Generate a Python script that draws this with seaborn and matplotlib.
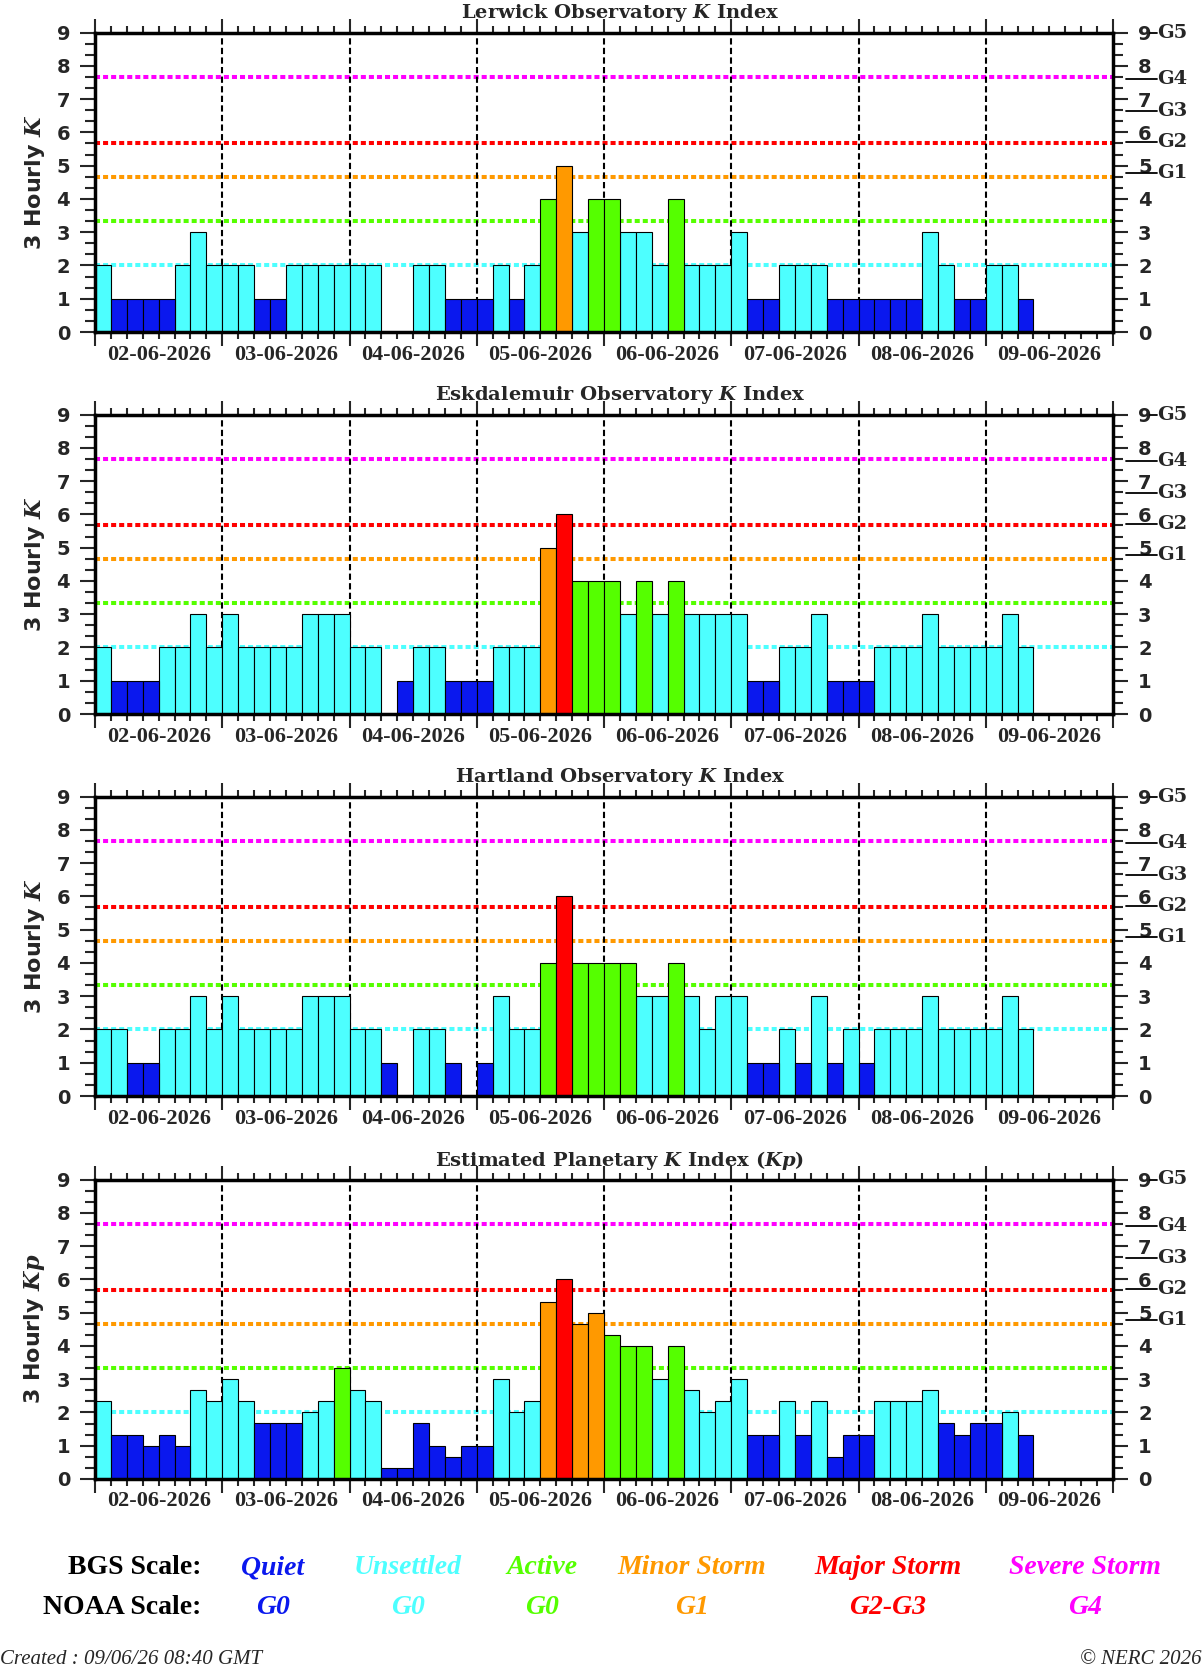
import numpy as np
import pandas as pd
import matplotlib
matplotlib.use('Agg')
import matplotlib.pyplot as plt
import matplotlib.transforms as mtransforms
from matplotlib.lines import Line2D
import seaborn as sns

# ---------------- data ----------------
day_labels = ['02-06-2026', '03-06-2026', '04-06-2026', '05-06-2026',
              '06-06-2026', '07-06-2026', '08-06-2026', '09-06-2026']

lerwick_k = [2, 1, 1, 1, 1, 2, 3, 2,
             2, 2, 1, 1, 2, 2, 2, 2,
             2, 2, 0, 0, 2, 2, 1, 1,
             1, 2, 1, 2, 4, 5, 3, 4,
             4, 3, 3, 2, 4, 2, 2, 2,
             3, 1, 1, 2, 2, 2, 1, 1,
             1, 1, 1, 1, 3, 2, 1, 1,
             2, 2, 1, None, None, None, None, None]

eskdalemuir_k = [2, 1, 1, 1, 2, 2, 3, 2,
                 3, 2, 2, 2, 2, 3, 3, 3,
                 2, 2, 0, 1, 2, 2, 1, 1,
                 1, 2, 2, 2, 5, 6, 4, 4,
                 4, 3, 4, 3, 4, 3, 3, 3,
                 3, 1, 1, 2, 2, 3, 1, 1,
                 1, 2, 2, 2, 3, 2, 2, 2,
                 2, 3, 2, None, None, None, None, None]

hartland_k = [2, 2, 1, 1, 2, 2, 3, 2,
              3, 2, 2, 2, 2, 3, 3, 3,
              2, 2, 1, 0, 2, 2, 1, 0,
              1, 3, 2, 2, 4, 6, 4, 4,
              4, 4, 3, 3, 4, 3, 2, 3,
              3, 1, 1, 2, 1, 3, 1, 2,
              1, 2, 2, 2, 3, 2, 2, 2,
              2, 3, 2, None, None, None, None, None]

kp_index = [2.33, 1.33, 1.33, 1.0, 1.33, 1.0, 2.67, 2.33,
            3.0, 2.33, 1.67, 1.67, 1.67, 2.0, 2.33, 3.33,
            2.67, 2.33, 0.33, 0.33, 1.67, 1.0, 0.67, 1.0,
            1.0, 3.0, 2.0, 2.33, 5.33, 6.0, 4.67, 5.0,
            4.33, 4.0, 4.0, 3.0, 4.0, 2.67, 2.0, 2.33,
            3.0, 1.33, 1.33, 2.33, 1.33, 2.33, 0.67, 1.33,
            1.33, 2.33, 2.33, 2.33, 2.67, 1.67, 1.33, 1.67,
            1.67, 2.0, 1.33, None, None, None, None, None]

panel_titles = ['Lerwick Observatory $\\mathit{K}$ Index',
                'Eskdalemuir Observatory $\\mathit{K}$ Index',
                'Hartland Observatory $\\mathit{K}$ Index',
                'Estimated Planetary $\\mathit{K}$ Index ($\\mathit{Kp}$)']
panel_ylabels = ['3 Hourly $\\mathit{K}$', '3 Hourly $\\mathit{K}$',
                 '3 Hourly $\\mathit{K}$', '3 Hourly $\\mathit{Kp}$']
panel_values = [lerwick_k, eskdalemuir_k, hartland_k, kp_index]

bgs_levels = ['Quiet', 'Unsettled', 'Active', 'Minor Storm', 'Major Storm', 'Severe Storm']
noaa_levels = ['G0', 'G0', 'G0', 'G1', 'G2-G3', 'G4']
level_upper = [1.9, 3.2, 4.5, 5.5, 7.5, 99]          # class boundaries
threshold_values = [2.0, 3.333, 4.667, 5.667, 7.667]  # dotted reference lines
g_scale = [('G5', 9.0), ('G4', 7.6), ('G3', 6.65), ('G2', 5.72), ('G1', 4.78)]

# ---------------- style ----------------
level_colors = {'Quiet': '#0a18ee', 'Unsettled': '#4dffff', 'Active': '#55ff00',
                'Minor Storm': '#ff9900', 'Major Storm': '#ff0000', 'Severe Storm': '#ff00ff'}
threshold_colors = ['#4dffff', '#55ff00', '#ff9900', '#ff0000', '#ff00ff']

sns.set_style('white')
plt.rcParams.update({
    'font.family': ['DejaVu Sans'],
    'font.weight': 'bold',
    'axes.labelweight': 'bold',
    'mathtext.fontset': 'custom',
    'mathtext.it': 'DejaVu Serif:italic:bold',
    'mathtext.rm': 'DejaVu Serif:bold',
    'mathtext.bf': 'DejaVu Serif:bold',
})


def level_of(v):
    for name, up in zip(bgs_levels, level_upper):
        if v < up:
            return name
    return bgs_levels[-1]


fig = plt.figure(figsize=(12.02, 16.70), dpi=100)
W, H = 1202, 1670
ax_left_px, ax_right_px = 95, 1113
panel_bottom_px = [332, 714, 1096, 1479]
ax_h_px = 299.5
ax_w_px = ax_right_px - ax_left_px

n_slots = 64
for p in range(4):
    b = 1 - panel_bottom_px[p] / H
    ax = fig.add_axes([ax_left_px / W, b, ax_w_px / W, ax_h_px / H])
    df = pd.DataFrame({'slot': np.arange(n_slots) + 0.5,
                       'k': pd.to_numeric(pd.Series(panel_values[p]), errors='coerce')})
    df = df.dropna().reset_index(drop=True)
    df['level'] = [level_of(v) for v in df['k']]

    for lv, c in zip(threshold_values, threshold_colors):
        ax.axhline(lv, color=c, lw=2.9, linestyle=(0, (1.25, 0.75)), zorder=1)
    for d in range(1, 8):
        ax.axvline(8 * d, color='black', lw=1.5, linestyle=(0, (3.0, 1.6)), zorder=1.2)

    sns.barplot(data=df, x='slot', y='k', hue='level', palette=level_colors,
                native_scale=True, width=1, dodge=False, legend=False, saturation=1,
                errorbar=None, edgecolor='black', linewidth=0.8, ax=ax, zorder=2)

    ax.set_xlim(0, n_slots)
    ax.set_ylim(0, 9)
    ax.set_xlabel('')
    for s in ax.spines.values():
        s.set_visible(True)
        s.set_linewidth(2.5)
        s.set_color('black')
        s.set_zorder(5)

    # x ticks
    ax.set_xticks(np.arange(0, n_slots + 1, 8))
    ax.set_xticklabels([])
    minor_pos = [i for i in range(n_slots + 1) if i % 8 != 0]
    minor_lab = [day_labels[i // 8] if i % 8 == 4 else '' for i in minor_pos]
    ax.set_xticks(minor_pos, minor=True)
    ax.set_xticklabels(minor_lab, minor=True, fontfamily='Liberation Serif',
                       fontweight='bold', fontsize=16)
    ax.tick_params(axis='x', which='major', direction='out', length=10, width=1.5,
                   top=True, bottom=True)
    ax.tick_params(axis='x', which='minor', direction='out', length=5, width=1.5,
                   top=True, bottom=True, pad=4)

    # y ticks
    ax.set_yticks(range(10))
    ax.set_yticks(np.arange(0, 9.01, 1 / 3), minor=True)
    ax.tick_params(axis='y', which='major', direction='out', length=11, width=1.5,
                   left=True, right=True, labelleft=True, labelright=True,
                   labelsize=14, pad=7)
    ax.tick_params(axis='y', which='minor', direction='out', length=7, width=1.5,
                   left=True, right=True)
    ax.grid(False)

    ax.set_ylabel(panel_ylabels[p], fontsize=16, fontweight='bold', fontfamily='DejaVu Sans',
                  va='center')
    ax.yaxis.set_label_coords((35 - ax_left_px) / ax_w_px, 0.5)

    ax.text(0.5155, 1 + 14 / ax_h_px, panel_titles[p], transform=ax.transAxes,
            ha='center', va='baseline', fontsize=14, fontweight='bold',
            fontfamily='DejaVu Serif')

    # NOAA G scale on the right
    tr = mtransforms.blended_transform_factory(ax.transAxes, ax.transData)
    for g, lv in g_scale:
        x0 = (1150 - ax_left_px) / ax_w_px if g == 'G5' else (1126 - ax_left_px) / ax_w_px
        x1 = (1157 - ax_left_px) / ax_w_px
        ax.add_line(Line2D([x0, x1], [lv, lv], transform=tr, color='black',
                           lw=1.3, clip_on=False))
        ax.text(x1, lv, g, transform=tr, ha='left', va='center', fontsize=14,
                fontweight='bold', fontfamily='DejaVu Serif')

# ---------------- legend text ----------------
row1_y = 1 - 1568 / H
row2_y = 1 - 1607 / H
fig.text(201 / W, row1_y, 'BGS Scale:', ha='right', va='center', fontsize=20,
         fontweight='bold', fontfamily='Liberation Serif', color='black')
fig.text(201 / W, row2_y, 'NOAA Scale:', ha='right', va='center', fontsize=20,
         fontweight='bold', fontfamily='Liberation Serif', color='black')
legend_x_px = [273, 408, 542, 692, 888, 1085]
for name, g, xp in zip(bgs_levels, noaa_levels, legend_x_px):
    fig.text(xp / W, row1_y, name, ha='center', va='center', fontsize=20, fontweight='bold',
             fontstyle='italic', fontfamily='Liberation Serif', color=level_colors[name])
    fig.text(xp / W, row2_y, g, ha='center', va='center', fontsize=20, fontweight='bold',
             fontstyle='italic', fontfamily='Liberation Serif', color=level_colors[name])

fig.text(0.0, 1 - 1660 / H, 'Created : 09/06/26 08:40 GMT', ha='left', va='center',
         fontsize=15, fontweight='normal', fontstyle='italic', fontfamily='Liberation Serif')
fig.text(1.0, 1 - 1660 / H, '© NERC 2026', ha='right', va='center',
         fontsize=15, fontweight='normal', fontstyle='italic', fontfamily='Liberation Serif')

fig.savefig('out.png', dpi=100, facecolor='white')
